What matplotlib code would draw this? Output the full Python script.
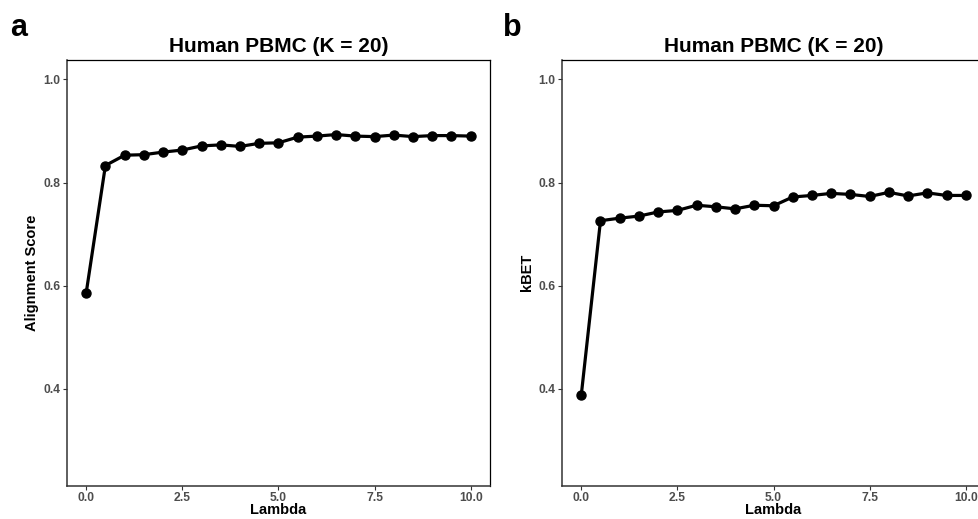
import matplotlib
matplotlib.use("Agg")
import matplotlib.pyplot as plt

plt.rcParams['font.family'] = ['Liberation Sans', 'DejaVu Sans']

lambdas = [0.0, 0.5, 1.0, 1.5, 2.0, 2.5, 3.0, 3.5, 4.0, 4.5, 5.0,
           5.5, 6.0, 6.5, 7.0, 7.5, 8.0, 8.5, 9.0, 9.5, 10.0]
alignment = [0.586, 0.833, 0.853, 0.854, 0.859, 0.863, 0.871, 0.873, 0.870, 0.876, 0.877,
             0.888, 0.890, 0.893, 0.890, 0.889, 0.892, 0.889, 0.891, 0.891, 0.890]
kbet = [0.388, 0.726, 0.731, 0.735, 0.743, 0.746, 0.756, 0.753, 0.749, 0.756, 0.755,
        0.772, 0.775, 0.779, 0.777, 0.773, 0.781, 0.774, 0.780, 0.775, 0.775]

title = 'Human PBMC (K = 20)'
yticks = [0.4, 0.6, 0.8, 1.0]
xticks = [0.0, 2.5, 5.0, 7.5, 10.0]

fig = plt.figure(figsize=(9.79, 5.19), dpi=100)

panels = [
    ('a', 0.0684, alignment, 'Alignment Score', 0.010),
    ('b', 0.5741, kbet, 'kBET', 0.514),
]

for letter, left, values, ylabel, letter_x in panels:
    ax = fig.add_axes([left, 0.0642, 0.432, 0.8202])
    ax.plot(lambdas, values, color='black', linewidth=2.3,
            marker='o', markersize=6.5, solid_capstyle='round')
    ax.set_xlim(-0.5, 10.5)
    ax.set_ylim(0.2125, 1.0375)
    ax.set_xticks(xticks)
    ax.set_xticklabels([f'{t:.1f}' for t in xticks])
    ax.set_yticks(yticks)
    ax.set_yticklabels([f'{t:.1f}' for t in yticks])
    ax.tick_params(axis='both', length=2.7, width=0.8, color='#333333',
                   labelsize=8.7, labelcolor='#4D4D4D', pad=2)
    for lab in ax.get_xticklabels() + ax.get_yticklabels():
        lab.set_fontweight('bold')
    for side in ['left', 'bottom']:
        ax.spines[side].set_color('#333333')
        ax.spines[side].set_linewidth(1.1)
    for side in ['top', 'right']:
        ax.spines[side].set_color('black')
        ax.spines[side].set_linewidth(0.9)
    ax.set_xlabel('Lambda', fontsize=10.5, fontweight='bold', labelpad=-1)
    ax.set_ylabel(ylabel, fontsize=10.5, fontweight='bold', labelpad=3)
    ax.set_title(title, fontsize=15, fontweight='bold', pad=6)
    fig.text(letter_x, 0.975, letter, fontsize=22, fontweight='bold',
             ha='left', va='top')

fig.savefig('out.png', dpi=100)
